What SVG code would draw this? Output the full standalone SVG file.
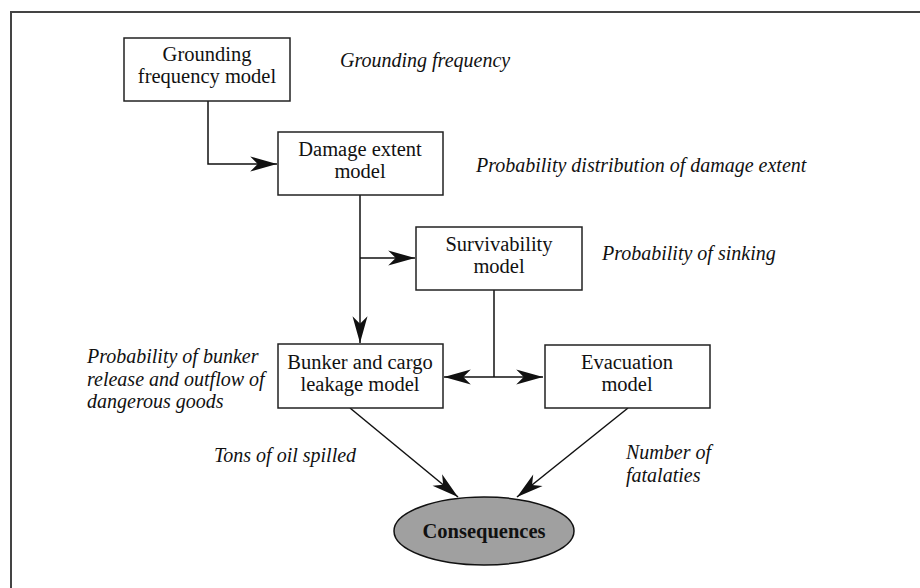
<svg xmlns="http://www.w3.org/2000/svg" width="920" height="588" viewBox="0 0 920 588">
<style>
.box{fill:#fff;stroke:#222;stroke-width:1.5}
.t{font-family:"Liberation Serif",serif;font-size:20.5px;fill:#111;text-anchor:middle}
.i{font-family:"Liberation Serif",serif;font-size:20px;font-style:italic;fill:#111}
.c{fill:none;stroke:#111;stroke-width:1.5}
</style>
<defs>
<marker id="ah" markerUnits="userSpaceOnUse" markerWidth="30" markerHeight="20" viewBox="-26 -8 28 16" refX="0" refY="0" orient="auto">
<path d="M0,0 L-25,-7 L-18,0 L-25,7 Z" fill="#111"/>
</marker>
</defs>
<rect width="920" height="588" fill="#fff"/>
<path d="M11,588 V12 H920" fill="none" stroke="#444" stroke-width="2"/>
<g id="connectors">
<path class="c" d="M208,101 V164 H277" marker-end="url(#ah)"/>
<path class="c" d="M360,195 V343" marker-end="url(#ah)"/>
<path class="c" d="M360,258 H415" marker-end="url(#ah)"/>
<path class="c" d="M494,290 V377"/>
<path class="c" d="M494,377 H444" marker-end="url(#ah)"/>
<path class="c" d="M494,377 H543" marker-end="url(#ah)"/>
<path class="c" d="M350,408 L458,497" marker-end="url(#ah)"/>
<path class="c" d="M628,408 L517,497" marker-end="url(#ah)"/>
</g>
<g id="grounding">
<rect class="box" x="124" y="38" width="166" height="63"/>
<text class="t" x="207" y="61">Grounding</text>
<text class="t" x="207" y="83">frequency model</text>
</g>
<g id="damage">
<rect class="box" x="278" y="132" width="165" height="63"/>
<text class="t" x="360" y="156">Damage extent</text>
<text class="t" x="360" y="178">model</text>
</g>
<g id="survivability">
<rect class="box" x="416" y="227" width="166" height="63"/>
<text class="t" x="499" y="251">Survivability</text>
<text class="t" x="499" y="273">model</text>
</g>
<g id="bunker">
<rect class="box" x="278" y="344" width="165" height="64"/>
<text class="t" x="360" y="369">Bunker and cargo</text>
<text class="t" x="360" y="391">leakage model</text>
</g>
<g id="evacuation">
<rect class="box" x="545" y="345" width="165" height="63"/>
<text class="t" x="627" y="369">Evacuation</text>
<text class="t" x="627" y="391">model</text>
</g>
<g id="consequences">
<ellipse cx="484" cy="531" rx="90" ry="34" fill="#a0a0a0" stroke="#111" stroke-width="1.5"/>
<text class="t" x="484" y="538" font-weight="bold">Consequences</text>
</g>
<g id="labels">
<text class="i" x="340" y="67">Grounding frequency</text>
<text class="i" x="476" y="172">Probability distribution of damage extent</text>
<text class="i" x="602" y="260">Probability of sinking</text>
<text class="i" x="87" y="363">Probability of bunker</text>
<text class="i" x="87" y="386">release and outflow of</text>
<text class="i" x="87" y="408">dangerous goods</text>
<text class="i" x="214" y="462">Tons of oil spilled</text>
<text class="i" x="626" y="459">Number of</text>
<text class="i" x="626" y="482">fatalaties</text>
</g>
</svg>
